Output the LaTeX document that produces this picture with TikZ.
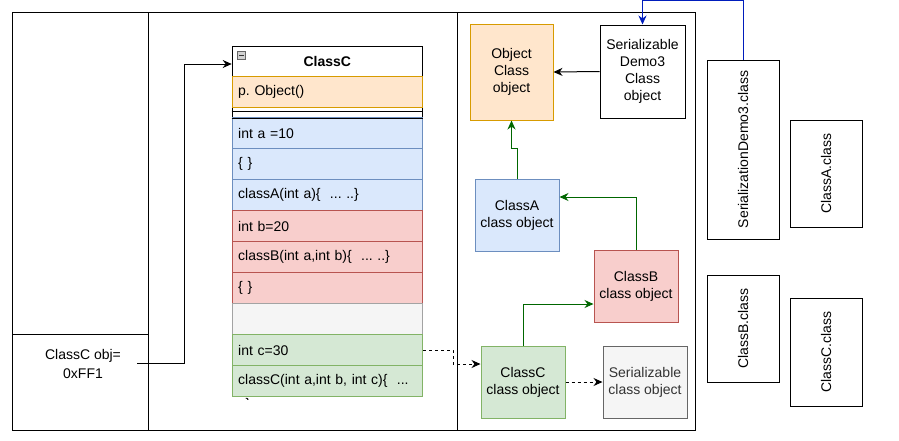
\documentclass[tikz,border=0pt]{standalone}
\usepackage{fontspec}
\setmainfont{Liberation Sans}
\usetikzlibrary{arrows.meta,calc}
\definecolor{orfill}{HTML}{FFE6CC}
\definecolor{orline}{HTML}{D79B00}
\definecolor{blfill}{HTML}{DAE8FC}
\definecolor{blline}{HTML}{6C8EBF}
\definecolor{rdfill}{HTML}{F8CECC}
\definecolor{rdline}{HTML}{B85450}
\definecolor{gnfill}{HTML}{D5E8D4}
\definecolor{gnline}{HTML}{82B366}
\definecolor{gyfill}{HTML}{F5F5F5}
\definecolor{gyline}{HTML}{666666}
\definecolor{gytext}{HTML}{333333}
\definecolor{darkgreen}{HTML}{006600}
\definecolor{linkblue}{HTML}{001DBC}
\frenchspacing
\begin{document}
\begin{tikzpicture}[x=1pt, y=-1pt, line width=1pt,
  font=\fontsize{14}{17}\selectfont,
  lane/.style={draw, rectangle, inner sep=0pt, anchor=north west},
  obj/.style={draw, rectangle, inner sep=0pt, align=center, minimum width=84pt, minimum height=72pt},
  row/.style={draw, rectangle, anchor=north west, inner xsep=6pt, inner ysep=0pt,
    text width=178.3pt, align=left, minimum height=31pt},
  classfile/.style={draw, rectangle, inner sep=0pt, minimum width=72pt},
  arr/.style={-{Stealth[length=9pt,width=8pt]}},
  gar/.style={arr, darkgreen},
  dsh/.style={arr, dash pattern=on 3pt off 3pt},
]
\useasboundingbox (0,0) rectangle (899,440);

% lanes
\node[lane, minimum width=136pt, minimum height=418pt] (laneL) at (12,12) {};
\node[lane, minimum width=309pt, minimum height=418pt] (laneM) at (148,12) {};
\node[lane, minimum width=238pt, minimum height=418pt] (laneR) at (457,12) {};
\node[lane, minimum width=136pt, minimum height=96pt] (objbox) at (12,334) {};
\node[align=center, font=\fontsize{14}{19}\selectfont] (objtxt) at (83,363.5) {ClassC obj=\\0xFF1};
\coordinate (objref) at (137,363);

% ClassC class box
\node[lane, fill=white, minimum width=190.3pt, minimum height=71pt] (cbox) at (231.7,46) {};
\node[draw, fill=white, minimum width=190.3pt, minimum height=30pt, inner sep=0pt,
  anchor=north west, font=\bfseries\fontsize{14}{17}\selectfont] (hdr) at (231.7,46) {ClassC};
\node[draw=gyline, fill=gray!35, line width=0.6pt, minimum size=8pt, inner sep=0pt] (collapse) at (241.5,55.5) {};
\draw[line width=1.2pt, gytext] ([xshift=1.8pt]collapse.west) -- ([xshift=-1.8pt]collapse.east);
\node[row, draw=orline, fill=orfill] (rowobj) at (231.7,76) {p. Object()};
\draw ($(cbox.north west)+(0,65.5)$) -- ($(cbox.north east)+(0,65.5)$);

\node[row, draw=blline, fill=blfill] (rowa) at (231.7,117) {int a =10};
\node[row, draw=blline, fill=blfill] (rowa2) at (231.7,148) {\{ \}};
\node[row, draw=blline, fill=blfill] (rowa3) at (231.7,179) {classA(int a)\{\ \ ... ..\}};
\node[row, draw=rdline, fill=rdfill] (rowb) at (231.7,210) {int b=20};
\node[row, draw=rdline, fill=rdfill] (rowb2) at (231.7,241) {classB(int a,int b)\{\ \ ... ..\}};
\node[row, draw=rdline, fill=rdfill] (rowb3) at (231.7,272) {\{ \}};
\node[row, draw=gyline!60, fill=gyfill] (rowe) at (231.7,303) {};
\node[row, draw=gnline, fill=gnfill] (rowc) at (231.7,334) {int c=30};
\node[row, draw=gnline, fill=gnfill] (rowc2) at (231.7,365) {classC(int a,int b, int c)\{\ \ ...};
\draw (cbox.south west) -- (cbox.south east);
\begin{scope}
  \clip (231,390) rectangle (300,399);
  \node (brace) at (248,405) {\}};
\end{scope}

% right lane objects
\node[obj, draw=orline, fill=orfill, minimum width=83pt, minimum height=96pt] (objcls) at (511.5,72) {Object\\Class\\object};
\node[obj, minimum width=85pt, minimum height=93pt] (serdemo) at (642.5,71.5) {Serializable\\Demo3\\Class\\object};
\node[obj, draw=blline, fill=blfill] (clsA) at (517,215) {ClassA\\class object};
\node[obj, draw=rdline, fill=rdfill] (clsB) at (636,286) {ClassB\\class object};
\node[obj, draw=gnline, fill=gnfill] (clsC) at (523,382) {ClassC\\class object};
\node[obj, draw=gyline, fill=gyfill, text=gytext] (serobj) at (645,382) {Serializable\\class object};

% class files
\node[classfile, minimum height=179pt] (sd3class) at (743,149.5) {\rotatebox{90}{SerializationDemo3.class}};
\node[classfile, minimum height=107pt] (aclass) at (826,173.5) {\rotatebox{90}{ClassA.class}};
\node[classfile, minimum height=107pt] (bclass) at (743,328.5) {\rotatebox{90}{ClassB.class}};
\node[classfile, minimum height=108pt] (cclass) at (826,352) {\rotatebox{90}{ClassC.class}};

% connectors
\draw[arr] (objref) -- ++(47,0) |- ($(hdr.west)+(0,2.5)$);
\draw[arr] (serdemo.west) -- (objcls.east);
\draw[arr, linkblue] (sd3class.north) -- ++(0,-59) -| (serdemo.north);
\draw[gar] (clsA.north) -- ++(0,-30) -| (objcls.south);
\draw[gar] (clsB.north) |- ($(clsA.east)+(0,-18)$);
\draw[gar] (clsC.north) |- ($(clsB.west)+(0,18)$);
\draw[dsh] (rowc.east) -- ++(30,0) |- ($(clsC.west)+(0,-18)$);
\draw[dsh] (clsC.east) -- (serobj.west);
\end{tikzpicture}
\end{document}
